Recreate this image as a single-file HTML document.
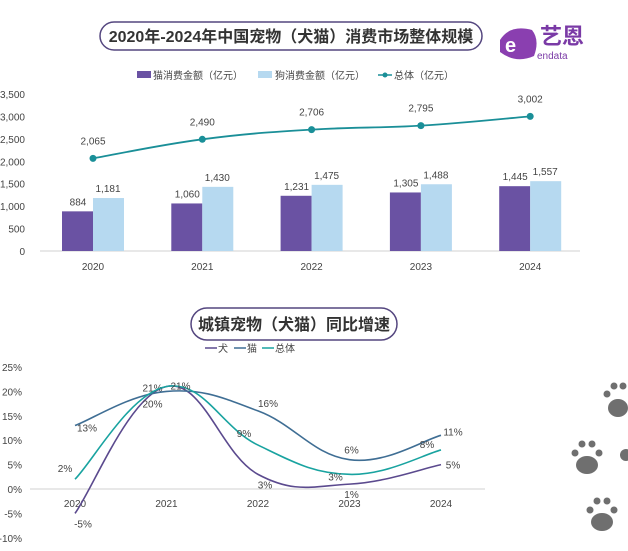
<!DOCTYPE html>
<html><head><meta charset="utf-8">
<style>
html,body{margin:0;padding:0;background:#fff;}
body{width:628px;height:546px;overflow:hidden;font-family:"Liberation Sans","Noto Sans CJK SC",sans-serif;}
svg text{font-family:"Liberation Sans","Noto Sans CJK SC",sans-serif;}
</style></head><body>
<svg id="s" width="628" height="546" viewBox="0 0 628 546" xmlns="http://www.w3.org/2000/svg">
  <g>
    <rect x="100" y="22" width="382" height="28" rx="14" fill="#fff" stroke="#54467f" stroke-width="1.5"/>
    <text x="291" y="42" text-anchor="middle" font-size="16" font-weight="bold" fill="#333">2020年-2024年中国宠物（犬猫）消费市场整体规模</text>
  </g>
  <g>
    <path d="M500 40 q10-16 32-10 q8 10 2 26 q-18 8 -34 -4z" fill="#8a3fb0"/>
    <text x="505" y="52" font-size="20" font-weight="bold" fill="#fff">e</text>
    <text x="540" y="44" font-size="22" font-weight="bold" fill="#7a3aa6">艺恩</text>
    <text x="537" y="59" font-size="10" fill="#7a3aa6">endata</text>
  </g>
  <g>
    <rect x="137" y="71" width="14" height="7" fill="#6a52a3"/>
    <text x="153" y="79" font-size="10" fill="#444">猫消费金额（亿元）</text>
    <rect x="258" y="71" width="14" height="7" fill="#b6d9f0"/>
    <text x="275" y="79" font-size="10" fill="#444">狗消费金额（亿元）</text>
    <line x1="378" y1="75" x2="392" y2="75" stroke="#1a8f98" stroke-width="1.5"/>
    <circle cx="385" cy="75" r="2.5" fill="#1a8f98"/>
    <text x="394" y="79" font-size="10" fill="#444">总体（亿元）</text>
  </g>
  <g id="topPlot"></g>
  <g>
    <rect x="191" y="308" width="206" height="32" rx="16" fill="#fff" stroke="#54467f" stroke-width="1.5"/>
    <text x="294" y="330" text-anchor="middle" font-size="16" font-weight="bold" fill="#333">城镇宠物（犬猫）同比增速</text>
  </g>
  <g>
    <line x1="205" y1="348" x2="217" y2="348" stroke="#5b4a8e" stroke-width="1.5"/><text x="218" y="352" font-size="10" fill="#444">犬</text>
    <line x1="234" y1="348" x2="246" y2="348" stroke="#3f6e94" stroke-width="1.5"/><text x="247" y="352" font-size="10" fill="#444">猫</text>
    <line x1="262" y1="348" x2="274" y2="348" stroke="#19a3a0" stroke-width="1.5"/><text x="275" y="352" font-size="10" fill="#444">总体</text>
  </g>
  <g id="botPlot"></g>
  <g fill="#6f6f6f">
    <ellipse cx="618" cy="408" rx="10" ry="9"/><circle cx="607" cy="394" r="3.5"/><circle cx="614" cy="386" r="3.5"/><circle cx="623" cy="386" r="3.5"/>
    <ellipse cx="587" cy="465" rx="11" ry="9"/><circle cx="575" cy="453" r="3.5"/><circle cx="582" cy="444" r="3.5"/><circle cx="592" cy="444" r="3.5"/><circle cx="599" cy="453" r="3.5"/>
    <ellipse cx="602" cy="522" rx="11" ry="9"/><circle cx="590" cy="510" r="3.5"/><circle cx="597" cy="501" r="3.5"/><circle cx="607" cy="501" r="3.5"/><circle cx="614" cy="510" r="3.5"/>
    <circle cx="626" cy="455" r="6"/>
  </g>
</svg>
<script>
const years = ["2020","2021","2022","2023","2024"];
const catValues = [884,1060,1231,1305,1445];
const dogValues = [1181,1430,1475,1488,1557];
const totalValues = [2065,2490,2706,2795,3002];
const topTicks = [0,500,1000,1500,2000,2500,3000,3500];
const growthTicks = [-10,-5,0,5,10,15,20,25];
const dogGrowth = [-5,21,3,1,5];
const catGrowth = [13,20,16,6,11];
const totalGrowth = [2,21,9,3,8];

const NS="http://www.w3.org/2000/svg";
function mk(tag,attrs,parent,text){const e=document.createElementNS(NS,tag);for(const k in attrs)e.setAttribute(k,attrs[k]);if(text!==undefined)e.textContent=text;parent.appendChild(e);return e;}
const fmt=v=>v.toLocaleString('en-US');
function smooth(pts){let d='M'+pts[0][0]+' '+pts[0][1];for(let i=0;i<pts.length-1;i++){const p0=pts[i-1]||pts[i],p1=pts[i],p2=pts[i+1],p3=pts[i+2]||p2;const t=0.2;d+=` C${p1[0]+(p2[0]-p0[0])*t} ${p1[1]+(p2[1]-p0[1])*t} ${p2[0]-(p3[0]-p1[0])*t} ${p2[1]-(p3[1]-p1[1])*t} ${p2[0]} ${p2[1]}`;}return d;}

const topG=document.getElementById('topPlot');
const tx=i=>93+i*109.3;
const ty=v=>251-v*157/3500;
topTicks.forEach(t=>{
  const el=mk('text',{x:25,y:ty(t)+4,'text-anchor':'end','font-size':10,fill:'#444'},topG,fmt(t));
  
  
});
const ax=mk('line',{x1:40,y1:251,x2:580,y2:251,stroke:'#d0d0d0'},topG);


years.forEach((y,i)=>{
  const cx=tx(i);
  const l=mk('text',{x:cx,y:270,'text-anchor':'middle','font-size':10,fill:'#444'},topG,y);
  
  
  const b1=mk('rect',{x:cx-31,y:ty(catValues[i]),width:31,height:251-ty(catValues[i]),fill:'#6a52a3'},topG);
  
  
  const b2=mk('rect',{x:cx,y:ty(dogValues[i]),width:31,height:251-ty(dogValues[i]),fill:'#b6d9f0'},topG);
  
  
  mk('text',{x:cx-15,y:ty(catValues[i])-6,'text-anchor':'middle','font-size':10,fill:'#444'},topG,fmt(catValues[i]));
  mk('text',{x:cx+15,y:ty(dogValues[i])-6,'text-anchor':'middle','font-size':10,fill:'#444'},topG,fmt(dogValues[i]));
  mk('text',{x:cx,y:ty(totalValues[i])-14,'text-anchor':'middle','font-size':10,fill:'#444'},topG,fmt(totalValues[i]));
});
const tl=mk('path',{d:smooth(totalValues.map((v,i)=>[tx(i),ty(v)])),fill:'none',stroke:'#1a8f98','stroke-width':1.8},topG);


totalValues.forEach((v,i)=>{
  const c=mk('circle',{cx:tx(i),cy:ty(v),r:3.5,fill:'#1a8f98'},topG);
  
  
});

const botG=document.getElementById('botPlot');
const bx=i=>75+i*91.5;
const by=v=>489-v*24.4/5;
growthTicks.forEach(t=>{
  const el=mk('text',{x:22,y:by(t)+4,'text-anchor':'end','font-size':10,fill:'#444'},botG,t+'%');
  
  
});
const ax2=mk('line',{x1:30,y1:489,x2:485,y2:489,stroke:'#d0d0d0'},botG);


years.forEach((y,i)=>{
  const l=mk('text',{x:bx(i),y:507,'text-anchor':'middle','font-size':10,fill:'#444'},botG,y);
  
  
});
const series=[[dogGrowth,'#5b4a8e','line-dog',[[8,14],[-14,5],[7,14],[2,14],[12,4]]],
              [catGrowth,'#3f6e94','line-cat',[[12,6],[-14,16],[10,-4],[2,-6],[12,0]]],
              [totalGrowth,'#19a3a0','line-total-growth',[[-10,-7],[14,3],[-14,-8],[-14,6],[-14,-2]]]];
series.forEach(([vals,col,name,offs])=>{
  const p=mk('path',{d:smooth(vals.map((v,i)=>[bx(i),by(v)])),fill:'none',stroke:col,'stroke-width':1.6},botG);
  
  
  vals.forEach((v,i)=>{
    mk('text',{x:bx(i)+offs[i][0],y:by(v)+offs[i][1],'text-anchor':'middle','font-size':10,fill:'#444'},botG,v+'%');
  });
});
</script>
</body></html>
